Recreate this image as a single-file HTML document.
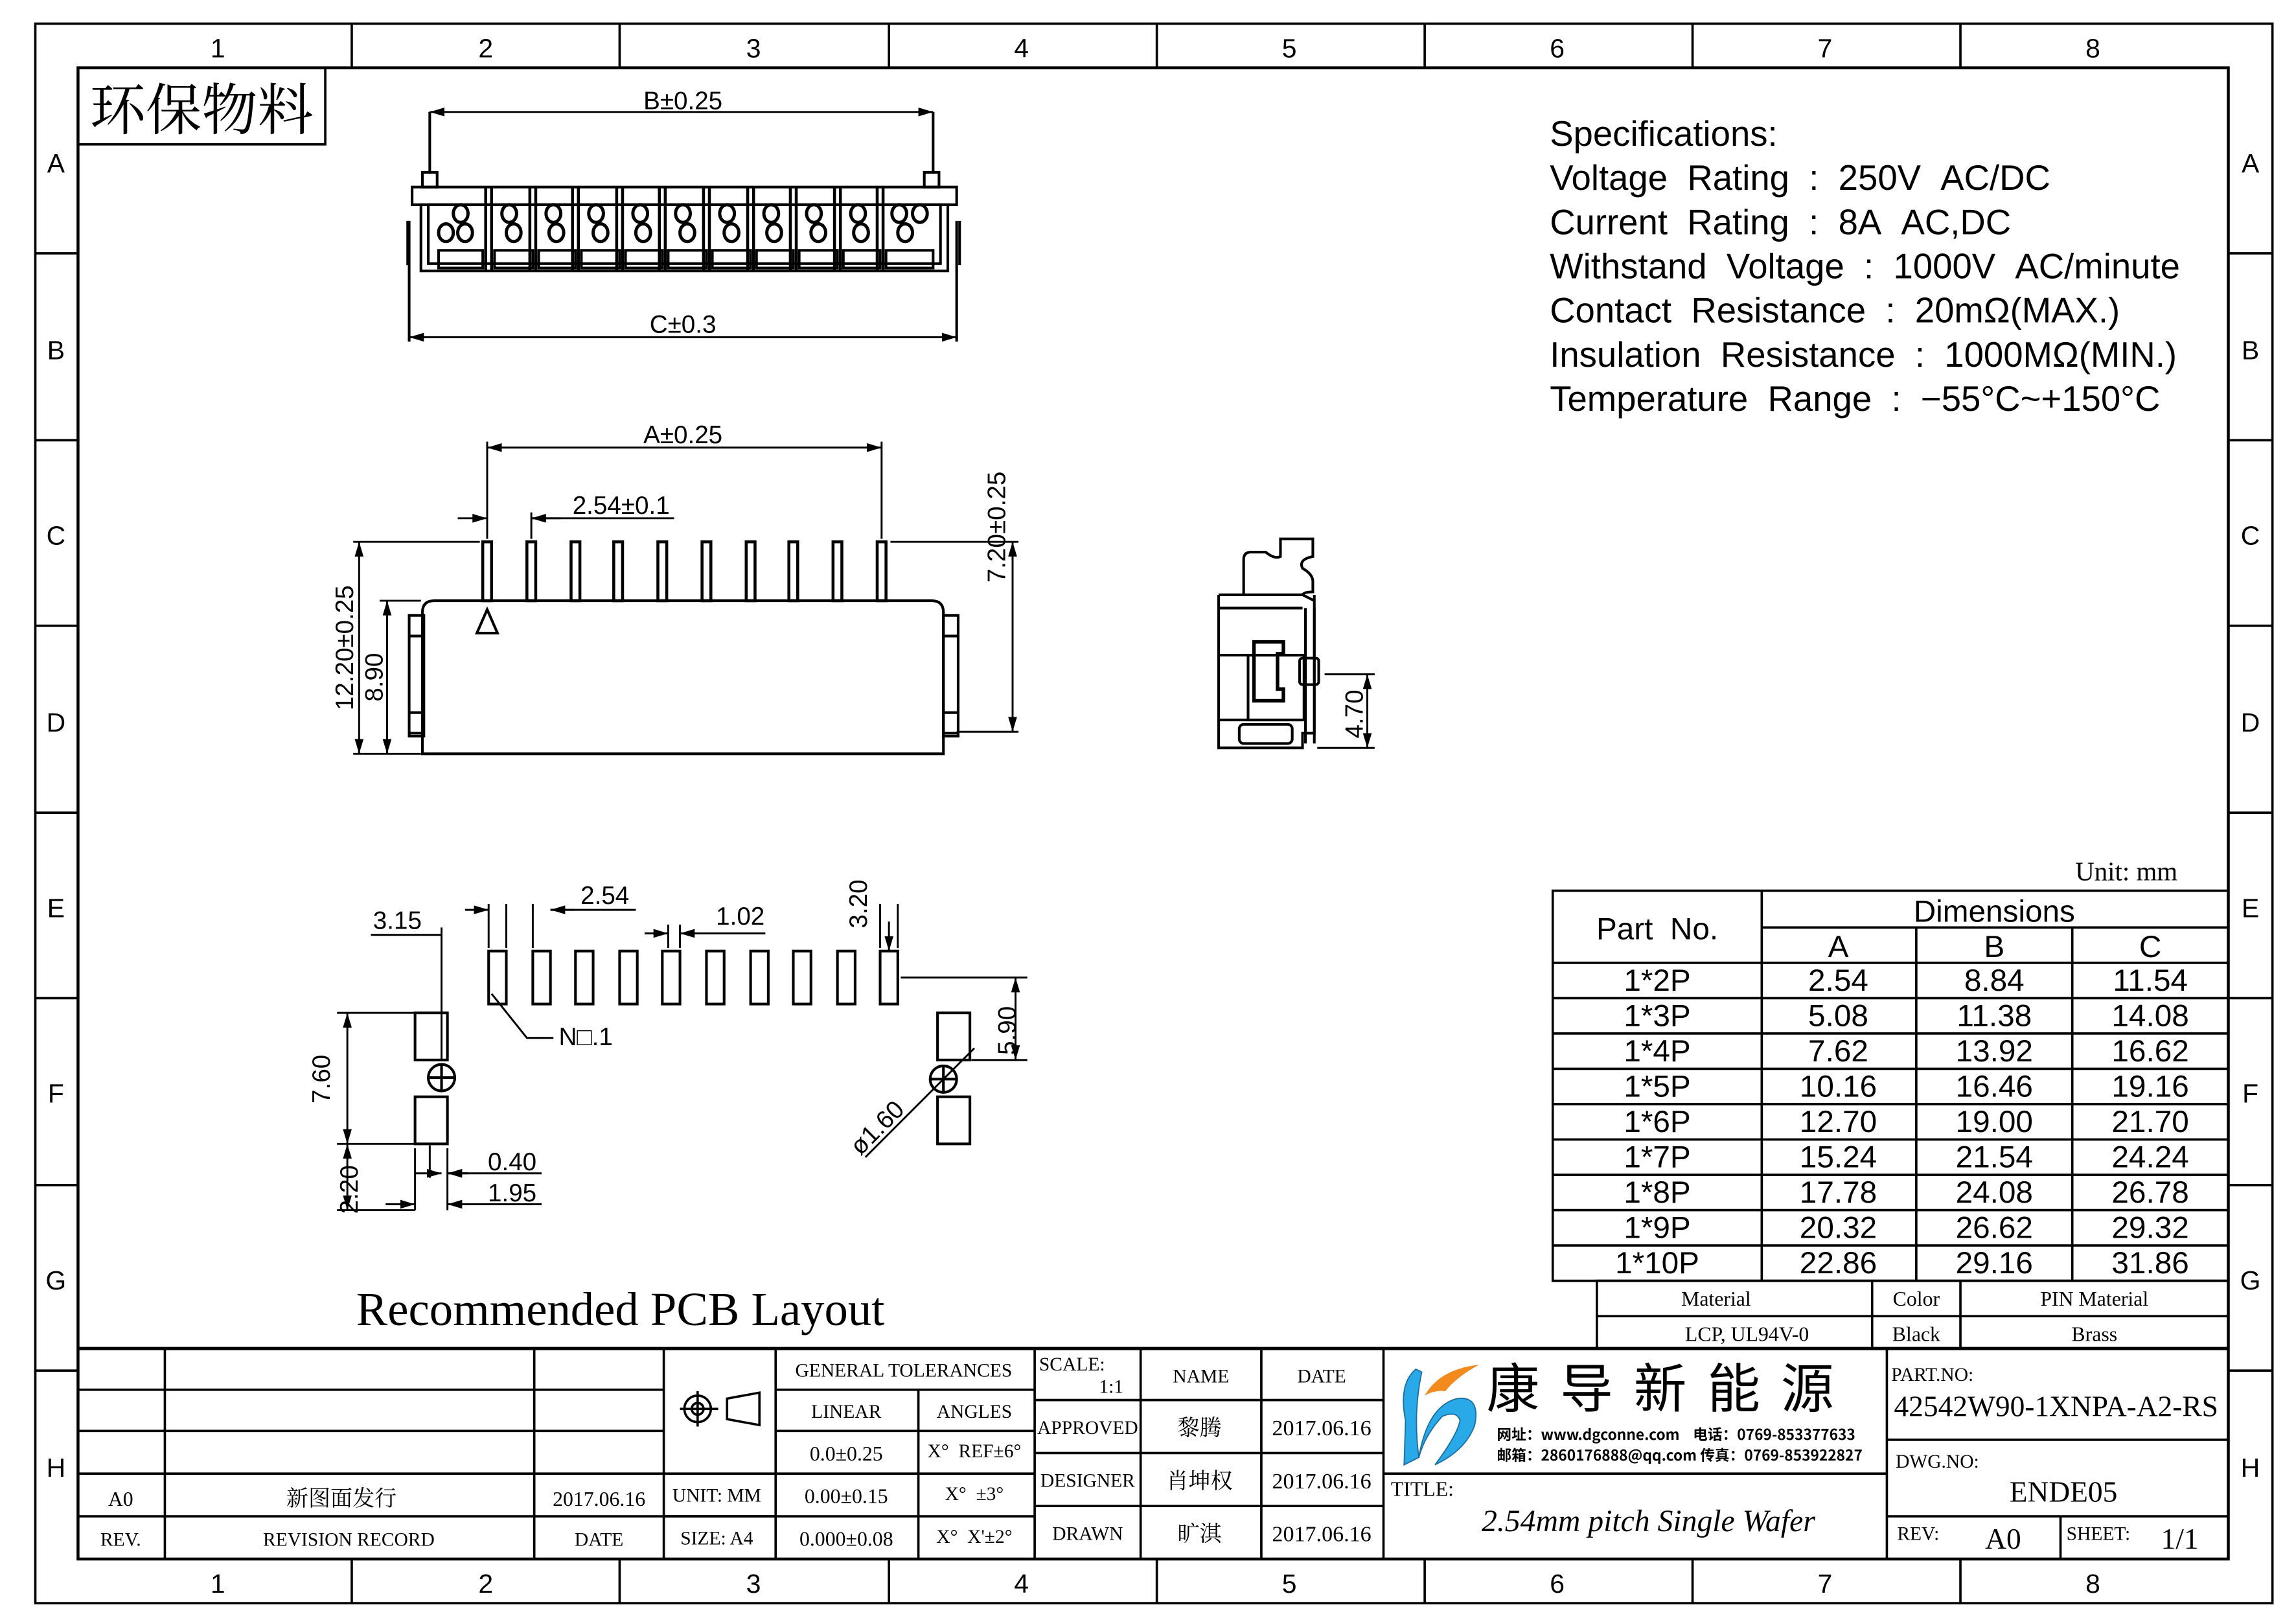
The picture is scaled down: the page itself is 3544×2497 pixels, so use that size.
<!DOCTYPE html>
<html><head><meta charset="utf-8"><style>
html,body{margin:0;padding:0;background:#fff}
svg{display:block}
.s{font-family:"Liberation Sans","DejaVu Sans",sans-serif}
.r{font-family:"Liberation Serif","Noto Serif CJK SC",serif}
</style></head><body>
<svg width="3544" height="2497" viewBox="0 0 1560 1099" xmlns="http://www.w3.org/2000/svg">
<defs>
<marker id="a" viewBox="0 0 10 6" refX="10" refY="3" markerWidth="10" markerHeight="6" orient="auto-start-reverse" markerUnits="userSpaceOnUse"><path d="M0,0 L10,3 L0,6z" fill="#000"/></marker>
</defs>
<rect width="1560" height="1099" fill="#fff"/>
<g fill="none" stroke="#000" stroke-width="1.6">
<rect x="24" y="16" width="1520" height="1073"/>
<rect x="53" y="46" width="1461" height="1013" stroke-width="2"/>
<path d="M239,16V46M421,16V46M604,16V46M786,16V46M968,16V46M1150,16V46M1332,16V46"/>
<path d="M239,1059V1089M421,1059V1089M604,1059V1089M786,1059V1089M968,1059V1089M1150,1059V1089M1332,1059V1089"/>
<path d="M24,172H53M24,299H53M24,425H53M24,552H53M24,678H53M24,805H53M24,931H53"/>
<path d="M1514,172H1544M1514,299H1544M1514,425H1544M1514,552H1544M1514,678H1544M1514,805H1544M1514,931H1544"/>
<rect x="53" y="46" width="168" height="52"/>
</g>
<g class="s" font-size="18" text-anchor="middle">
<text x="148" y="39">1</text><text x="330" y="39">2</text><text x="512" y="39">3</text><text x="694" y="39">4</text><text x="876" y="39">5</text><text x="1058" y="39">6</text><text x="1240" y="39">7</text><text x="1422" y="39">8</text>
<text x="148" y="1082">1</text><text x="330" y="1082">2</text><text x="512" y="1082">3</text><text x="694" y="1082">4</text><text x="876" y="1082">5</text><text x="1058" y="1082">6</text><text x="1240" y="1082">7</text><text x="1422" y="1082">8</text>
<text x="38" y="117">A</text><text x="38" y="244">B</text><text x="38" y="370">C</text><text x="38" y="497">D</text><text x="38" y="623">E</text><text x="38" y="749">F</text><text x="38" y="876">G</text><text x="38" y="1003">H</text>
<text x="1529" y="117">A</text><text x="1529" y="244">B</text><text x="1529" y="370">C</text><text x="1529" y="497">D</text><text x="1529" y="623">E</text><text x="1529" y="749">F</text><text x="1529" y="876">G</text><text x="1529" y="1003">H</text>
</g>
<text x="137" y="88" class="r" font-size="38" text-anchor="middle" font-family="Noto Serif CJK SC">环保物料</text>

<!-- specs -->
<g class="s" font-size="24" fill="#000">
<text x="1053" y="99">Specifications:</text>
<text x="1053" y="129">Voltage&#160;&#160;Rating&#160;&#160;:&#160;&#160;250V&#160;&#160;AC/DC</text>
<text x="1053" y="159">Current&#160;&#160;Rating&#160;&#160;:&#160;&#160;8A&#160;&#160;AC,DC</text>
<text x="1053" y="189">Withstand&#160;&#160;Voltage&#160;&#160;:&#160;&#160;1000V&#160;&#160;AC/minute</text>
<text x="1053" y="219">Contact&#160;&#160;Resistance&#160;&#160;:&#160;&#160;20mΩ(MAX.)</text>
<text x="1053" y="249">Insulation&#160;&#160;Resistance&#160;&#160;:&#160;&#160;1000MΩ(MIN.)</text>
<text x="1053" y="279">Temperature&#160;&#160;Range&#160;&#160;:&#160;&#160;−55°C~+150°C</text>
</g>

<!-- top view -->
<g fill="none" stroke="#000" stroke-width="1.8">
<rect x="280" y="127" width="370" height="12"/>
<rect x="286" y="139" width="358" height="45"/>
<rect x="291" y="139" width="348" height="40"/>
<path d="M287,117h10v10h-10zM628,117h10v10h-10z"/>
<path d="M277,150v30M652,150v30"/>
<path d="M292,76V118M634,76V118M278,150V232M650,150V232"/>
<g stroke-width="2">
<path d="M334,127v57M364,127v57M393,127v57M423,127v57M452,127v57M482,127v57M512,127v57M541,127v57M571,127v57M600,127v57"/>
<path d="M330,127v57M360,127v57M389,127v57M419,127v57M448,127v57M478,127v57M508,127v57M537,127v57M567,127v57M596,127v57"/>
</g>
<g stroke-width="1.8">
<rect x="298" y="170" width="30" height="12"/><rect x="336" y="170" width="26" height="12"/><rect x="366" y="170" width="25" height="12"/><rect x="395" y="170" width="26" height="12"/><rect x="425" y="170" width="25" height="12"/><rect x="454" y="170" width="26" height="12"/><rect x="484" y="170" width="26" height="12"/><rect x="514" y="170" width="25" height="12"/><rect x="543" y="170" width="26" height="12"/><rect x="573" y="170" width="25" height="12"/><rect x="602" y="170" width="32" height="12"/>
</g>
<g stroke-width="2.2">
<ellipse cx="313" cy="145" rx="5" ry="6"/><ellipse cx="303" cy="158" rx="5" ry="6"/><ellipse cx="316" cy="158" rx="5" ry="6"/>
<ellipse cx="346" cy="145" rx="5" ry="6"/><ellipse cx="349" cy="158" rx="5" ry="6"/>
<ellipse cx="376" cy="145" rx="5" ry="6"/><ellipse cx="378" cy="158" rx="5" ry="6"/>
<ellipse cx="405" cy="145" rx="5" ry="6"/><ellipse cx="408" cy="158" rx="5" ry="6"/>
<ellipse cx="435" cy="145" rx="5" ry="6"/><ellipse cx="437" cy="158" rx="5" ry="6"/>
<ellipse cx="464" cy="145" rx="5" ry="6"/><ellipse cx="467" cy="158" rx="5" ry="6"/>
<ellipse cx="494" cy="145" rx="5" ry="6"/><ellipse cx="497" cy="158" rx="5" ry="6"/>
<ellipse cx="524" cy="145" rx="5" ry="6"/><ellipse cx="526" cy="158" rx="5" ry="6"/>
<ellipse cx="553" cy="145" rx="5" ry="6"/><ellipse cx="556" cy="158" rx="5" ry="6"/>
<ellipse cx="583" cy="145" rx="5" ry="6"/><ellipse cx="585" cy="158" rx="5" ry="6"/>
<ellipse cx="611" cy="145" rx="5" ry="6"/><ellipse cx="625" cy="145" rx="5" ry="6"/><ellipse cx="615" cy="158" rx="5" ry="6"/>
</g>
</g>
<g stroke="#000" stroke-width="1.3" fill="none">
<path d="M292,76H634" marker-start="url(#a)" marker-end="url(#a)"/>
<path d="M278,229H650" marker-start="url(#a)" marker-end="url(#a)"/>
</g>
<g class="s" font-size="17" text-anchor="middle">
<text x="464" y="74">B±0.25</text>
<text x="464" y="226">C±0.3</text>
</g>

<!-- front view -->
<g fill="none" stroke="#000" stroke-width="1.8">
<path d="M295,408H633Q641,408 641,416V512H287V416Q287,408 295,408z"/>
<path d="M278,418h10v82h-10z M278,418h10v14h-10z M278,484h10v14h-10z"/>
<path d="M641,418h10v82h-10z M641,418h10v14h-10z M641,484h10v14h-10z"/>
<g stroke-width="2">
<rect x="328" y="368" width="6" height="40"/><rect x="358" y="368" width="6" height="40"/><rect x="388" y="368" width="6" height="40"/><rect x="417" y="368" width="6" height="40"/><rect x="447" y="368" width="6" height="40"/><rect x="477" y="368" width="6" height="40"/><rect x="507" y="368" width="6" height="40"/><rect x="536" y="368" width="6" height="40"/><rect x="566" y="368" width="6" height="40"/><rect x="596" y="368" width="6" height="40"/>
</g>
<path d="M331,414l-7,16h14z"/>
<g stroke-width="1.3">
<path d="M331,300V366M599,300V366M361,348V366"/>
<path d="M331,304H599" marker-start="url(#a)" marker-end="url(#a)"/>
<path d="M311,352H331" marker-end="url(#a)"/><path d="M381,352H361" marker-end="url(#a)"/><path d="M361,352H458"/>
<path d="M605,368H692M650,497H692"/>
<path d="M688,368V497" marker-start="url(#a)" marker-end="url(#a)"/>
<path d="M240,368H326M258,408H286M240,512H286"/>
<path d="M244,368V512" marker-start="url(#a)" marker-end="url(#a)"/>
<path d="M263,408V512" marker-start="url(#a)" marker-end="url(#a)"/>
</g>
</g>
<g class="s" font-size="17" text-anchor="middle">
<text x="464" y="301">A±0.25</text>
<text x="422" y="349">2.54±0.1</text>
<text transform="translate(683,358) rotate(-90)">7.20±0.25</text>
<text transform="translate(240,440) rotate(-90)">12.20±0.25</text>
<text transform="translate(260,460) rotate(-90)">8.90</text>
</g>

<!-- side view -->
<g fill="none" stroke="#000" stroke-width="1.8">
<path d="M828,404V508H885V498H893V404"/>
<path d="M828,404H885"/>
<path d="M828,413H885M828,445H885M828,489H885"/>
<path d="M885,404L893,408M887,413V505M893,413V505"/>
<path d="M845,404V380Q845,375 850,375H860Q866,380 870,378V366H892V378Q882,380 885,386Q892,390 892,395V402Q886,402 885,404"/>
<rect x="848" y="445" width="38" height="44"/>
<path d="M852,436h20v8h-4v24h4v8h-20z" stroke-width="2.4"/>
<rect x="842" y="492" width="36" height="13" rx="3"/>
<rect x="883" y="447" width="13" height="18" rx="2"/>
<g stroke-width="1.3">
<path d="M900,458H934M895,508H934"/>
<path d="M929,458V508" marker-start="url(#a)" marker-end="url(#a)"/>
</g>
</g>
<text transform="translate(926,485) rotate(-90)" class="s" font-size="17" text-anchor="middle">4.70</text>

<!-- PCB layout -->
<g fill="none" stroke="#000" stroke-width="1.8">
<rect x="332" y="646" width="12" height="36"/><rect x="362" y="646" width="12" height="36"/><rect x="391" y="646" width="12" height="36"/><rect x="421" y="646" width="12" height="36"/><rect x="450" y="646" width="12" height="36"/><rect x="480" y="646" width="12" height="36"/><rect x="510" y="646" width="12" height="36"/><rect x="539" y="646" width="12" height="36"/><rect x="569" y="646" width="12" height="36"/><rect x="598" y="646" width="12" height="36"/>
<rect x="282" y="688" width="22" height="32"/><rect x="282" y="745" width="22" height="32"/>
<circle cx="300" cy="732" r="9"/><path d="M291,732H309M300,723V741"/>
<rect x="637" y="688" width="22" height="32"/><rect x="637" y="745" width="22" height="32"/>
<circle cx="641" cy="733" r="9"/><path d="M632,733H650M641,724V742"/>
<g stroke-width="1.3">
<path d="M300,630V720M332,614V644M344,614V644M362,614V644M454,628V644M462,628V644M598,614V644M610,614V644"/>
<path d="M252,635H300"/>
<path d="M316,618H332" marker-end="url(#a)"/><path d="M390,618H374" marker-end="url(#a)"/><path d="M374,618H432"/>
<path d="M438,634H454" marker-end="url(#a)"/><path d="M478,634H462" marker-end="url(#a)"/><path d="M462,634H520"/>
<path d="M604,626V646" marker-end="url(#a)"/>
<path d="M334,675L358,705H376"/>
<path d="M612,664H698M660,720H698"/>
<path d="M690,664V720" marker-start="url(#a)" marker-end="url(#a)"/>
<path d="M588,786L662,712"/>
<path d="M229,688H282M229,777H282M229,822H282"/>
<path d="M236,688V777" marker-start="url(#a)" marker-end="url(#a)"/>
<path d="M236,777V822" marker-start="url(#a)" marker-end="url(#a)"/>
<path d="M282,780V822M304,780V822M292,778V800"/>
<path d="M282,797H300" marker-end="url(#a)"/><path d="M318,797H304" marker-end="url(#a)"/><path d="M304,797H368"/>
<path d="M262,818H282" marker-end="url(#a)"/><path d="M324,818H304" marker-end="url(#a)"/><path d="M304,818H368"/>
</g>
</g>
<g class="s" font-size="17" text-anchor="middle">
<text x="270" y="631">3.15</text>
<text x="411" y="614">2.54</text>
<text x="503" y="628">1.02</text>
<text transform="translate(589,614) rotate(-90)">3.20</text>
<text x="398" y="710">N□.1</text>
<text transform="translate(690,700) rotate(-90)">5.90</text>
<text transform="translate(600,770) rotate(-45)">ø1.60</text>
<text transform="translate(224,733) rotate(-90)">7.60</text>
<text transform="translate(243,808) rotate(-90)">2.20</text>
<text x="348" y="795">0.40</text>
<text x="348" y="816">1.95</text>
</g>
<text x="242" y="900" class="r" font-size="32" font-family="Liberation Mono">Recommended PCB Layout</text>

<!-- dimensions table -->
<text x="1410" y="598" class="r" font-size="18" font-family="Liberation Mono">Unit: mm</text>
<g fill="none" stroke="#000" stroke-width="1.6">
<rect x="1055" y="605" width="459" height="265"/>
<path d="M1197,605V870M1302,630V870M1408,630V870M1197,630H1514"/>
<path d="M1055,654H1514M1055,678H1514M1055,702H1514M1055,726H1514M1055,750H1514M1055,774H1514M1055,798H1514M1055,822H1514M1055,846H1514"/>
<rect x="1085" y="870" width="429" height="46"/>
<path d="M1085,894H1514M1272,870V916M1332,870V916"/>
</g>
<g class="s" font-size="21" text-anchor="middle" fill="#000">
<text x="1126" y="638">Part&#160;&#160;No.</text>
<text x="1355" y="626">Dimensions</text>
<text x="1249" y="650">A</text><text x="1355" y="650">B</text><text x="1461" y="650">C</text>
<text x="1126" y="673">1*2P</text><text x="1249" y="673">2.54</text><text x="1355" y="673">8.84</text><text x="1461" y="673">11.54</text>
<text x="1126" y="697">1*3P</text><text x="1249" y="697">5.08</text><text x="1355" y="697">11.38</text><text x="1461" y="697">14.08</text>
<text x="1126" y="721">1*4P</text><text x="1249" y="721">7.62</text><text x="1355" y="721">13.92</text><text x="1461" y="721">16.62</text>
<text x="1126" y="745">1*5P</text><text x="1249" y="745">10.16</text><text x="1355" y="745">16.46</text><text x="1461" y="745">19.16</text>
<text x="1126" y="769">1*6P</text><text x="1249" y="769">12.70</text><text x="1355" y="769">19.00</text><text x="1461" y="769">21.70</text>
<text x="1126" y="793">1*7P</text><text x="1249" y="793">15.24</text><text x="1355" y="793">21.54</text><text x="1461" y="793">24.24</text>
<text x="1126" y="817">1*8P</text><text x="1249" y="817">17.78</text><text x="1355" y="817">24.08</text><text x="1461" y="817">26.78</text>
<text x="1126" y="841">1*9P</text><text x="1249" y="841">20.32</text><text x="1355" y="841">26.62</text><text x="1461" y="841">29.32</text>
<text x="1126" y="865">1*10P</text><text x="1249" y="865">22.86</text><text x="1355" y="865">29.16</text><text x="1461" y="865">31.86</text>
</g>
<g class="r" font-size="14" text-anchor="middle" font-family="Liberation Mono">
<text x="1166" y="887">Material</text><text x="1302" y="887">Color</text><text x="1423" y="887">PIN Material</text>
<text x="1187" y="911">LCP, UL94V-0</text><text x="1302" y="911">Black</text><text x="1423" y="911">Brass</text>
</g>

<!-- title block -->
<g fill="none" stroke="#000" stroke-width="1.6">
<path d="M53,916H1514" stroke-width="2.2"/>
<path d="M53,944H451M53,972H451M53,1001H703M53,1030H703"/>
<path d="M527,944H703M527,972H703M451,1030H527"/>
<path d="M112,916V1059M363,916V1059M451,916V1059M527,916V1059M624,944V1059M703,916V1059M775,916V1059M857,916V1059M940,916V1059"/>
<path d="M703,951H940M703,987H940M703,1023H940"/>
<path d="M940,1001H1282M1282,916V1059M1282,978H1514M1282,1030H1514M1400,1030V1059"/>
<circle cx="474" cy="957" r="9"/><circle cx="474" cy="957" r="4"/><path d="M462,957H488M474,945V969"/>
<path d="M494,950L516,946V968L494,964z"/>
</g>
<g class="r" font-size="13" text-anchor="middle" fill="#000">
<text x="614" y="935">GENERAL TOLERANCES</text>
<text x="575" y="963">LINEAR</text><text x="662" y="963">ANGLES</text>
<text x="575" y="992" font-size="14">0.0±0.25</text><text x="662" y="990">X°&#160;&#160;REF±6°</text>
<text x="575" y="1021" font-size="14">0.00±0.15</text><text x="662" y="1019">X°&#160;&#160;±3°</text>
<text x="575" y="1050" font-size="14">0.000±0.08</text><text x="662" y="1048">X°&#160;&#160;X'±2°</text>
<text x="487" y="1020" font-size="13">UNIT: MM</text><text x="487" y="1049">SIZE: A4</text>
<text x="82" y="1023" font-size="14">A0</text><text x="232" y="1023" font-size="15" font-family="Liberation Serif,Noto Serif CJK SC">新图面发行</text><text x="407" y="1023" font-size="14">2017.06.16</text>
<text x="82" y="1050">REV.</text><text x="237" y="1050">REVISION RECORD</text><text x="407" y="1050">DATE</text>
<text x="755" y="946">1:1</text>
<text x="816" y="939">NAME</text><text x="898" y="939">DATE</text>
<text x="739" y="974">APPROVED</text><text x="739" y="1010">DESIGNER</text><text x="739" y="1046">DRAWN</text>
<text x="815" y="975" font-size="15" font-family="Noto Serif CJK SC">黎腾</text>
<text x="815" y="1011" font-size="15" font-family="Noto Serif CJK SC">肖坤权</text>
<text x="815" y="1047" font-size="15" font-family="Noto Serif CJK SC">旷淇</text>
<text x="898" y="975" font-size="15">2017.06.16</text><text x="898" y="1011" font-size="15">2017.06.16</text><text x="898" y="1047" font-size="15">2017.06.16</text>
</g>
<text x="706" y="931" class="r" font-size="13">SCALE:</text>
<!-- logo -->
<path d="M955,965 Q950,940 962,930 L966,932 Q960,960 964,990 L954,995z" fill="#29a9e8" stroke="#1a6fa0" stroke-width="0.8"/>
<path d="M964,990 Q970,955 990,950 Q1006,948 1002,968 Q996,985 975,995 Q990,975 992,965 Q990,958 980,962 Q968,975 964,990z" fill="#29a9e8" stroke="#1a6fa0" stroke-width="0.8"/>
<path d="M968,948 Q978,930 1005,927 Q990,935 982,945 Q975,944 968,948z" fill="#f28a1e"/>
<text x="1135" y="956" font-family="Noto Sans CJK SC,WenQuanYi Zen Hei,sans-serif" font-size="36" text-anchor="middle" letter-spacing="14">康导新能源</text>
<text x="1017" y="978" font-family="Noto Sans CJK SC,sans-serif" font-size="10" font-weight="bold">网址：www.dgconne.com&#160;&#160;&#160;&#160;电话：0769-853377633</text>
<text x="1017" y="992" font-family="Noto Sans CJK SC,sans-serif" font-size="10" font-weight="bold">邮箱：2860176888@qq.com 传真：0769-853922827</text>
<text x="945" y="1016" class="r" font-size="14">TITLE:</text>
<text x="1120" y="1040" class="r" font-size="21" font-style="italic" text-anchor="middle" font-family="Liberation Mono">2.54mm pitch Single Wafer</text>
<text x="1285" y="938" class="r" font-size="13">PART.NO:</text>
<text x="1397" y="962" class="r" font-size="20" text-anchor="middle">42542W90-1XNPA-A2-RS</text>
<text x="1288" y="997" class="r" font-size="13">DWG.NO:</text>
<text x="1402" y="1020" class="r" font-size="20" text-anchor="middle">ENDE05</text>
<text x="1289" y="1046" class="r" font-size="13">REV:</text>
<text x="1361" y="1052" class="r" font-size="20" text-anchor="middle">A0</text>
<text x="1404" y="1046" class="r" font-size="13">SHEET:</text>
<text x="1481" y="1052" class="r" font-size="20" text-anchor="middle">1/1</text>
</svg>
</body></html>
